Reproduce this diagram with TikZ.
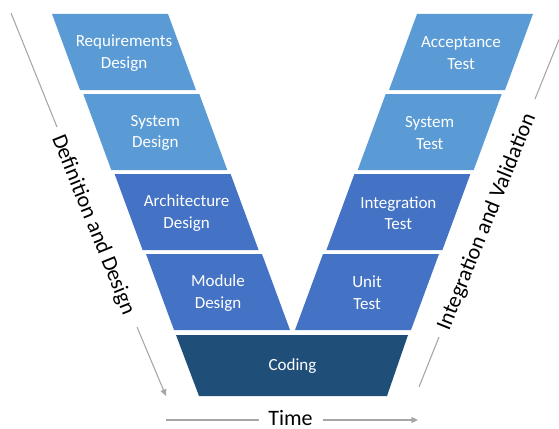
\documentclass[tikz,border=0pt]{standalone}
\usepackage{fontspec}
\setmainfont{Carlito}
\usetikzlibrary{arrows.meta}

\definecolor{stageLight}{HTML}{5B9BD5}
\definecolor{stageMid}{HTML}{4472C4}
\definecolor{stageDark}{HTML}{1F4E79}
\definecolor{guideGray}{HTML}{A6A6A6}

\tikzset{
  stagetext/.style={text=white, align=center, font=\fontsize{12.75}{16.2}\selectfont},
  sidetext/.style={text=black, font=\fontsize{16.5}{20}\selectfont},
  guideline/.style={draw=guideGray, line width=0.8pt},
  guidearrow/.style={guideline, -{Triangle[length=5pt, width=4.5pt]}}
}

\begin{document}
\begin{tikzpicture}[x=0.75pt, y=-0.75pt]

\useasboundingbox (0,0) rectangle (559,428);

\coordinate (D1) at (11,13);
\coordinate (D2) at (57,127);
\coordinate (D3) at (137,327);
\coordinate (D4) at (166,396);

\coordinate (V1) at (559,39.5);
\coordinate (V2) at (535,99);
\coordinate (V3) at (439,337);
\coordinate (V4) at (419,387);

\coordinate (T1) at (166,420);
\coordinate (T2) at (259,420);
\coordinate (T3) at (323,420);
\coordinate (T4) at (418,420);

\fill[stageLight] (52,14) -- (168,14) -- (196,90) -- (80,90) -- cycle;
\node[stagetext] (reqdesign) at (124,53) {Requirements\\Design};

\fill[stageLight] (83.3,94) -- (199.3,94) -- (227.3,170) -- (111.3,170) -- cycle;
\node[stagetext] (sysdesign) at (155.3,133) {System\\Design};

\fill[stageMid] (114.6,174) -- (230.6,174) -- (258.6,250) -- (142.6,250) -- cycle;
\node[stagetext] (archdesign) at (186.6,213) {Architecture\\Design};

\fill[stageMid] (146,254) -- (262,254) -- (290,330) -- (174,330) -- cycle;
\node[stagetext] (moddesign) at (218,293) {Module\\Design};

\fill[stageDark] (176,335) -- (408,335) -- (387,396) -- (199,396) -- cycle;
\node[stagetext] (coding) at (292.5,366.5) {Coding};

\fill[stageMid] (323,254) -- (439,254) -- (411,330) -- (295,330) -- cycle;
\node[stagetext] (unittest) at (367,293) {Unit\\Test};

\fill[stageMid] (354.4,174) -- (470.4,174) -- (442.4,250) -- (326.4,250) -- cycle;
\node[stagetext] (inttest) at (398.4,213) {Integration\\Test};

\fill[stageLight] (385.7,94) -- (501.7,94) -- (473.7,170) -- (357.7,170) -- cycle;
\node[stagetext] (systest) at (429.7,133) {System\\Test};

\fill[stageLight] (417,14) -- (533,14) -- (505,90) -- (389,90) -- cycle;
\node[stagetext] (acctest) at (461,53) {Acceptance\\Test};

\draw[guideline] (D1) -- (D2);
\draw[guidearrow] (D3) -- (D4);
\node[sidetext, rotate=-68] (definition) at (93,225) {Definition and Design};

\draw[guideline] (V1) -- (V2);
\draw[guideline] (V3) -- (V4);
\node[sidetext, rotate=68] (integration) at (487,222) {Integration and Validation};

\draw[guideline] (T1) -- (T2);
\draw[guidearrow] (T3) -- (T4);
\node[sidetext, anchor=base, inner sep=0pt] (time) at (290.5,425) {Time};

\end{tikzpicture}
\end{document}
